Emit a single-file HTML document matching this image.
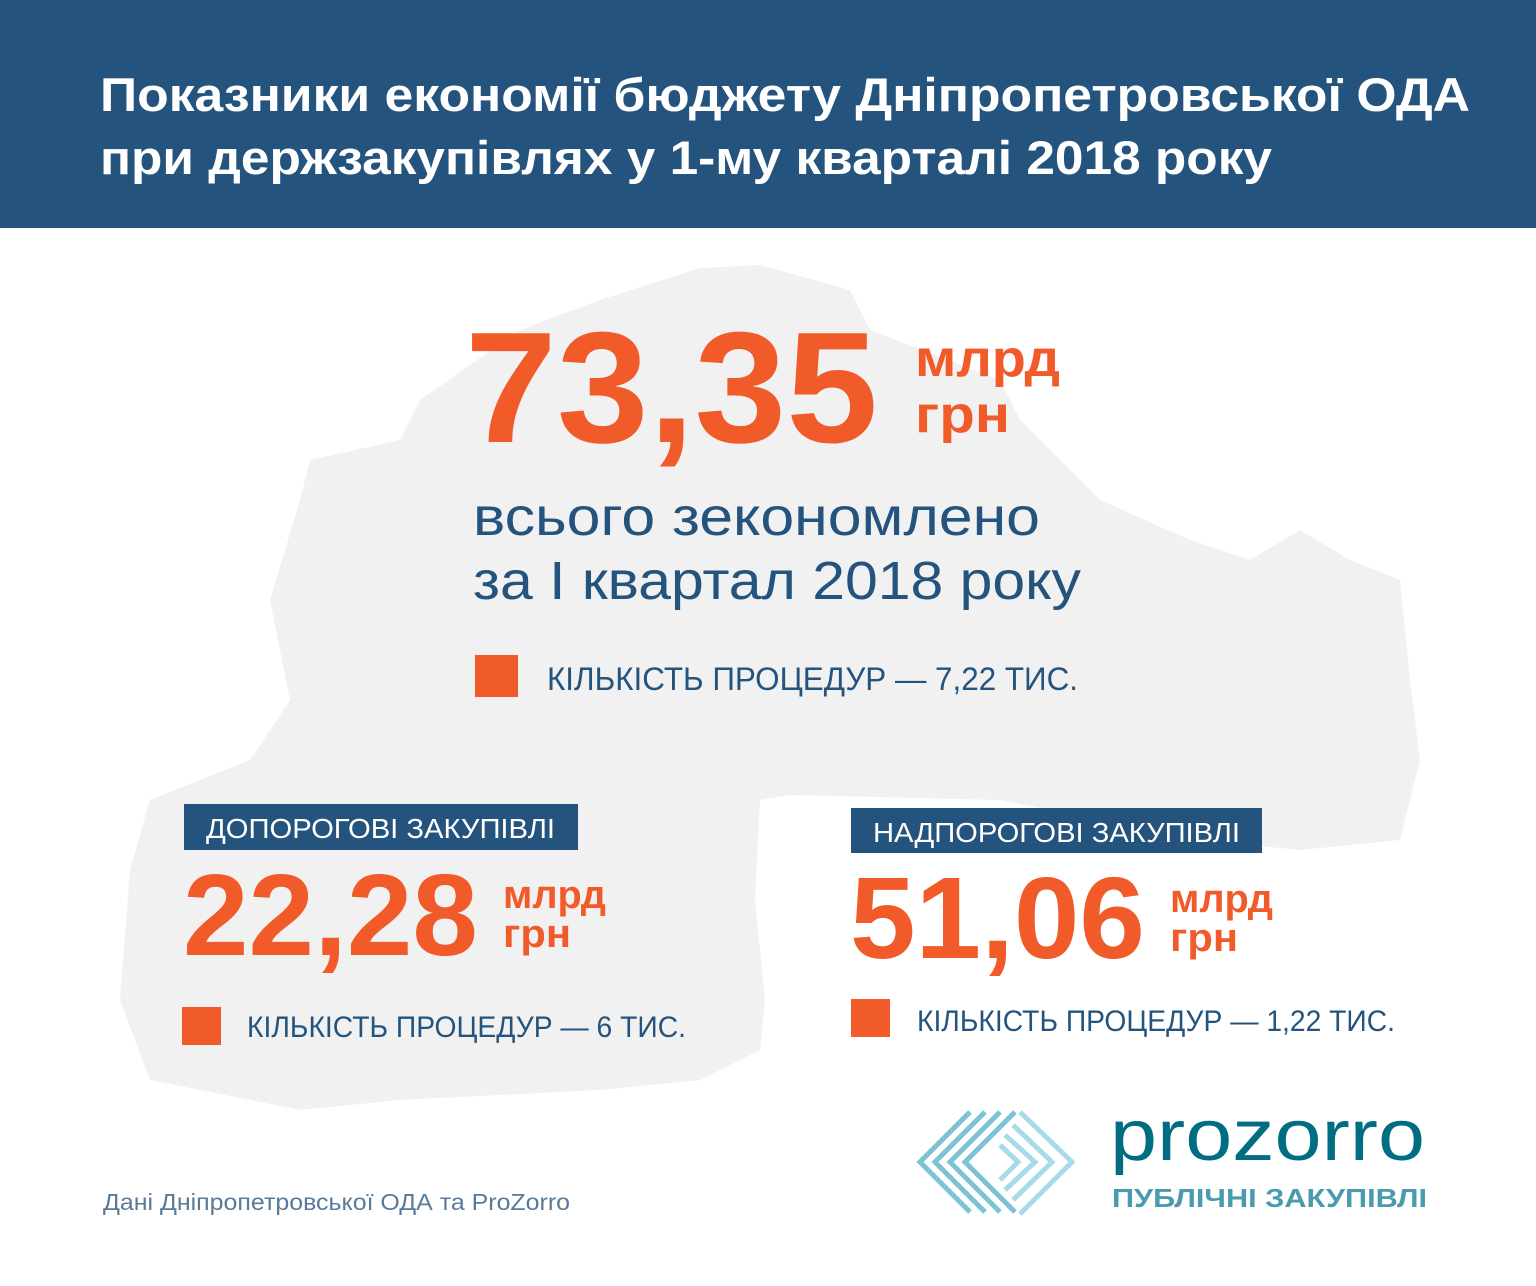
<!DOCTYPE html>
<html><head><meta charset="utf-8"><style>
html,body{margin:0;padding:0;background:#fff;}
svg{display:block;}
text{font-family:"Liberation Sans","DejaVu Sans",sans-serif;}
</style></head><body>
<svg width="1536" height="1286" viewBox="0 0 1536 1286" xmlns="http://www.w3.org/2000/svg">
<rect width="1536" height="1286" fill="#fff"/>
<polygon fill="#f1f1f2" points="700,268 760,265 850,290 870,330 1000,380 1020,420 1100,500 1190,540 1250,560 1300,530 1350,560 1400,580 1410,680 1420,760 1400,840 1300,850 1200,840 1000,800 790,795 760,800 755,900 765,1000 760,1050 700,1080 600,1090 400,1100 300,1110 150,1080 120,1000 130,870 150,800 250,760 290,700 270,600 300,500 310,460 400,440 420,400 520,330 600,300"/>
<rect width="1536" height="228" fill="#24547d"/>
<text x="100" y="111" fill="#fff" font-size="47" font-weight="bold" textLength="1370" lengthAdjust="spacingAndGlyphs">Показники економії бюджету Дніпропетровської ОДА</text>
<text x="100" y="174" fill="#fff" font-size="47" font-weight="bold" textLength="1172" lengthAdjust="spacingAndGlyphs">при держзакупівлях у 1-му кварталі 2018 року</text>

<g fill="#f15a29" font-weight="bold">
<text x="465" y="442" font-size="158" textLength="413" lengthAdjust="spacingAndGlyphs">73,35</text>
<text x="915" y="376" font-size="52" textLength="145" lengthAdjust="spacingAndGlyphs">млрд</text>
<text x="915" y="432" font-size="52" textLength="95" lengthAdjust="spacingAndGlyphs">грн</text>
<text x="183" y="955" font-size="116" textLength="295" lengthAdjust="spacingAndGlyphs">22,28</text>
<text x="503" y="908" font-size="40" textLength="103" lengthAdjust="spacingAndGlyphs">млрд</text>
<text x="503" y="947" font-size="40" textLength="68" lengthAdjust="spacingAndGlyphs">грн</text>
<text x="850" y="958" font-size="116" textLength="295" lengthAdjust="spacingAndGlyphs">51,06</text>
<text x="1170" y="912" font-size="40" textLength="103" lengthAdjust="spacingAndGlyphs">млрд</text>
<text x="1170" y="951" font-size="40" textLength="68" lengthAdjust="spacingAndGlyphs">грн</text>
</g>

<g fill="#24547d">
<text x="473" y="535" font-size="54" textLength="567" lengthAdjust="spacingAndGlyphs">всього зекономлено</text>
<text x="473" y="599" font-size="54" textLength="608" lengthAdjust="spacingAndGlyphs">за І квартал 2018 року</text>
<text x="547" y="690" font-size="32" textLength="531" lengthAdjust="spacingAndGlyphs">КІЛЬКІСТЬ ПРОЦЕДУР — 7,22 ТИС.</text>
<text x="247" y="1037" font-size="30" textLength="439" lengthAdjust="spacingAndGlyphs">КІЛЬКІСТЬ ПРОЦЕДУР — 6 ТИС.</text>
<text x="917" y="1031" font-size="30" textLength="478" lengthAdjust="spacingAndGlyphs">КІЛЬКІСТЬ ПРОЦЕДУР — 1,22 ТИС.</text>
<rect x="184" y="804" width="394" height="46"/>
<rect x="851" y="808" width="411" height="45"/>
</g>
<g fill="#f15a29">
<rect x="475" y="655" width="43" height="42"/>
<rect x="182" y="1007" width="39" height="38"/>
<rect x="851" y="999" width="39" height="38"/>
</g>
<text x="206" y="838" fill="#fff" font-size="28" textLength="349" lengthAdjust="spacingAndGlyphs">ДОПОРОГОВІ ЗАКУПІВЛІ</text>
<text x="873" y="842" fill="#fff" font-size="28" textLength="367" lengthAdjust="spacingAndGlyphs">НАДПОРОГОВІ ЗАКУПІВЛІ</text>

<text x="103" y="1210" fill="#5a7a99" font-size="23" textLength="467" lengthAdjust="spacingAndGlyphs">Дані Дніпропетровської ОДА та ProZorro</text>

<g stroke-width="5" fill="none">
<g stroke="#7cc3d6">
<polyline points="970,1112 920,1162 970,1212"/>
<polyline points="985,1112 935,1162 985,1212"/>
<polyline points="1000,1112 950,1162 1000,1212"/>
<polyline points="1015,1112 965,1162 1015,1212"/>
</g>
<g stroke="#a8dbe8">
<polyline points="1020,1112 1072,1162 1020,1214"/>
<polyline points="1013,1125 1052,1162 1013,1200"/>
<polyline points="1005,1135 1035,1162 1005,1190"/>
<polyline points="1000,1145 1018,1162 1000,1180"/>
</g>
</g>
<text x="1110" y="1160" fill="#006d82" font-size="72" textLength="315" lengthAdjust="spacingAndGlyphs">prozorro</text>
<text x="1112" y="1207" fill="#4a9bb0" font-size="26" font-weight="bold" textLength="315" lengthAdjust="spacingAndGlyphs">ПУБЛІЧНІ ЗАКУПІВЛІ</text>
</svg>
</body></html>
